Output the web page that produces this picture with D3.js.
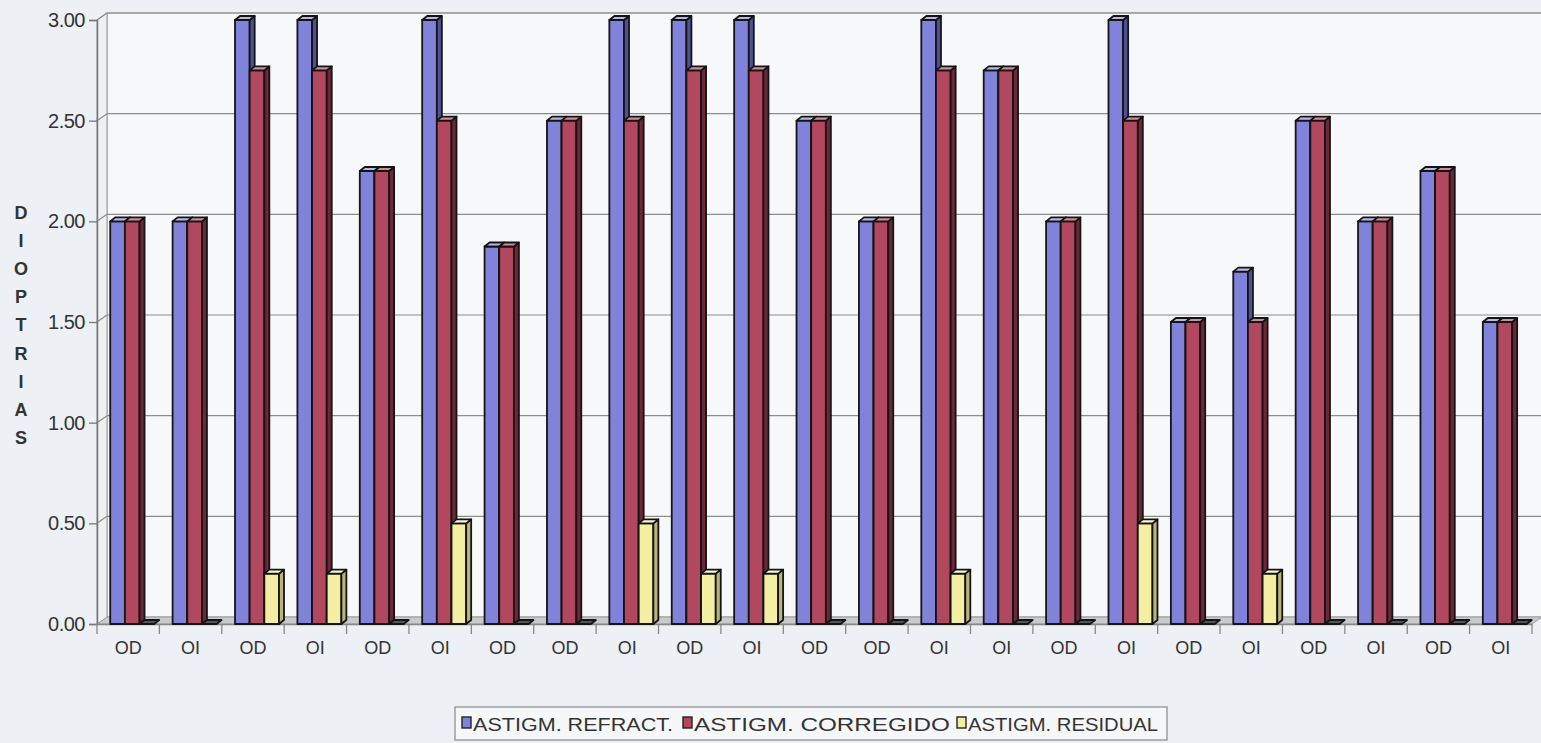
<!DOCTYPE html>
<html>
<head>
<meta charset="utf-8">
<script src="https://cdn.jsdelivr.net/npm/d3@7"></script>
<style>
  html, body { margin: 0; padding: 0; background: #edf0f4; }
  svg { display: block; }
  text { font-family: "Liberation Sans", Arial, sans-serif; fill: #333; }
</style>
</head>
<body>
<svg id="chart" width="1541" height="743"></svg>
<script>
// Eye of each case (right / left eye)
const categories = ["OD","OI","OD","OI","OD","OI","OD","OD","OI","OD","OI","OD",
                    "OD","OI","OI","OD","OI","OD","OI","OD","OI","OD","OI"];
// Astigmatism in diopters
const refract   = [2.00,2.00,3.00,3.00,2.25,3.00,1.875,2.50,3.00,3.00,3.00,2.50,
                   2.00,3.00,2.75,2.00,3.00,1.50,1.75,2.50,2.00,2.25,1.50];
const corregido = [2.00,2.00,2.75,2.75,2.25,2.50,1.875,2.50,2.50,2.75,2.75,2.50,
                   2.00,2.75,2.75,2.00,2.50,1.50,1.50,2.50,2.00,2.25,1.50];
const residual  = [0,0,0.25,0.25,0,0.50,0,0,0.50,0.25,0.25,0,
                   0,0.25,0,0,0.50,0,0.25,0,0,0,0];
const yTicks = [0, 0.5, 1, 1.5, 2, 2.5, 3];
const seriesNames = ["ASTIGM. REFRACT.", "ASTIGM. CORREGIDO", "ASTIGM. RESIDUAL"];

const palette = [
  { front: "#8183db", side: "#4f5196", top: "#b8b9e6" },
  { front: "#b2485f", side: "#6e2638", top: "#d08a98" },
  { front: "#f3eea2", side: "#b9b57a", top: "#fbf8d2" }
];

const svg = d3.select("#chart");
const x0 = 97, x1 = 1532, yBase = 624, yTop = 20;
const wallDx = 10, wallDy = -7;   // depth of back wall
const barDx = 5, barDy = -4;      // depth of each column

const y = d3.scaleLinear().domain([0, 3]).range([yBase, yTop]);
const x = d3.scaleBand().domain(d3.range(categories.length)).range([x0, x1]).padding(0);
const bw = x.bandwidth();
const colW = bw * 0.235;
const groupOff = bw * 0.212;

// back wall
svg.append("rect")
  .attr("x", x0 + wallDx).attr("y", y(3) + wallDy)
  .attr("width", x1 - x0).attr("height", yBase - y(3))
  .attr("fill", "#f7f8fa").attr("stroke", "#9a9a9a").attr("stroke-width", 1);

// floor
svg.append("path")
  .attr("d", `M${x0},${yBase} L${x1},${yBase} L${x1 + wallDx},${yBase + wallDy} L${x0 + wallDx},${yBase + wallDy} Z`)
  .attr("fill", "#c9cacc").attr("stroke", "#9a9a9a");

// left wall
svg.append("path")
  .attr("d", `M${x0},${y(3)} L${x0 + wallDx},${y(3) + wallDy} L${x0 + wallDx},${yBase + wallDy} L${x0},${yBase} Z`)
  .attr("fill", "#eef0f3").attr("stroke", "#9a9a9a");

// gridlines on the back wall plus the diagonal on the side wall
const grid = svg.append("g");
yTicks.forEach(t => {
  if (t === 0) return;
  grid.append("line")
    .attr("x1", x0 + wallDx).attr("x2", x1 + wallDx)
    .attr("y1", y(t) + wallDy).attr("y2", y(t) + wallDy)
    .attr("stroke", "#8c8c8c").attr("stroke-width", 1.2);
  grid.append("line")
    .attr("x1", x0).attr("x2", x0 + wallDx)
    .attr("y1", y(t)).attr("y2", y(t) + wallDy)
    .attr("stroke", "#8c8c8c").attr("stroke-width", 1.2);
});

// y axis
const yAxis = svg.append("g")
  .attr("transform", `translate(${x0},0)`)
  .call(d3.axisLeft(y).tickValues(yTicks).tickFormat(d3.format(".2f")).tickSize(8).tickPadding(4));
yAxis.select(".domain").attr("stroke", "#777").attr("stroke-width", 1.5);
yAxis.selectAll(".tick line").attr("stroke", "#777").attr("stroke-width", 1.3);
yAxis.selectAll(".tick text").attr("font-size", 20).attr("fill", "#333")
  .attr("letter-spacing", -0.5)
  .attr("font-family", "Liberation Sans, Arial, sans-serif");

// x axis
const xAxis = svg.append("g")
  .attr("transform", `translate(0,${yBase})`)
  .call(d3.axisBottom(x).tickFormat(i => categories[i]).tickSize(0).tickPadding(17));
xAxis.select(".domain").attr("stroke", "#888").attr("stroke-width", 1.3);
xAxis.selectAll(".tick text").attr("font-size", 18).attr("fill", "#333")
  .attr("font-family", "Liberation Sans, Arial, sans-serif");
svg.append("g").selectAll("line")
  .data(d3.range(categories.length + 1))
  .join("line")
  .attr("x1", i => x0 + i * bw).attr("x2", i => x0 + i * bw)
  .attr("y1", yBase).attr("y2", yBase + 10)
  .attr("stroke", "#888").attr("stroke-width", 1.3);

// 3D columns
const series = [refract, corregido, residual];
const bars = svg.append("g");
categories.forEach((c, i) => {
  series.forEach((vals, s) => {
    const v = vals[i];
    const bx = x(i) + groupOff + s * colW;
    const ty = y(v);
    const col = palette[s];
    const g = bars.append("g").attr("stroke", "#141414").attr("stroke-width", 1.8).attr("stroke-linejoin", "round");
    if (v > 0) {
      g.append("rect").attr("x", bx).attr("y", ty).attr("width", colW).attr("height", yBase - ty)
        .attr("fill", col.front);
      g.append("path")
        .attr("d", `M${bx + colW},${ty} L${bx + colW + barDx},${ty + barDy} L${bx + colW + barDx},${yBase + barDy} L${bx + colW},${yBase} Z`)
        .attr("fill", col.side);
    }
    g.append("path")
      .attr("d", `M${bx},${ty} L${bx + colW},${ty} L${bx + colW + barDx},${ty + barDy} L${bx + barDx},${ty + barDy} Z`)
      .attr("fill", v > 0 ? col.top : "#555");
  });
});

// y axis title, letters stacked vertically
const title = "DIOPTRIAS".split("");
svg.append("g").selectAll("text")
  .data(title)
  .join("text")
  .attr("x", 21).attr("y", (d, i) => 219 + i * 28.1)
  .attr("text-anchor", "middle")
  .attr("font-size", 18).attr("font-weight", "bold").attr("fill", "#222")
  .text(d => d);

// legend
const lg = svg.append("g");
lg.append("rect").attr("x", 455).attr("y", 707).attr("width", 712).attr("height", 33)
  .attr("fill", "#f6f7f9").attr("stroke", "#888").attr("stroke-width", 1.2);
const legendX = [462, 683, 957];
const legendW = [200, 256, 190];
seriesNames.forEach((name, s) => {
  lg.append("rect").attr("x", legendX[s]).attr("y", 717).attr("width", 9).attr("height", 11)
    .attr("fill", palette[s].front).attr("stroke", "#222").attr("stroke-width", 1.4);
  lg.append("text").attr("x", legendX[s] + 11).attr("y", 731)
    .attr("font-size", 19).attr("fill", "#222")
    .attr("textLength", legendW[s]).attr("lengthAdjust", "spacingAndGlyphs")
    .text(name);
});
</script>
</body>
</html>
